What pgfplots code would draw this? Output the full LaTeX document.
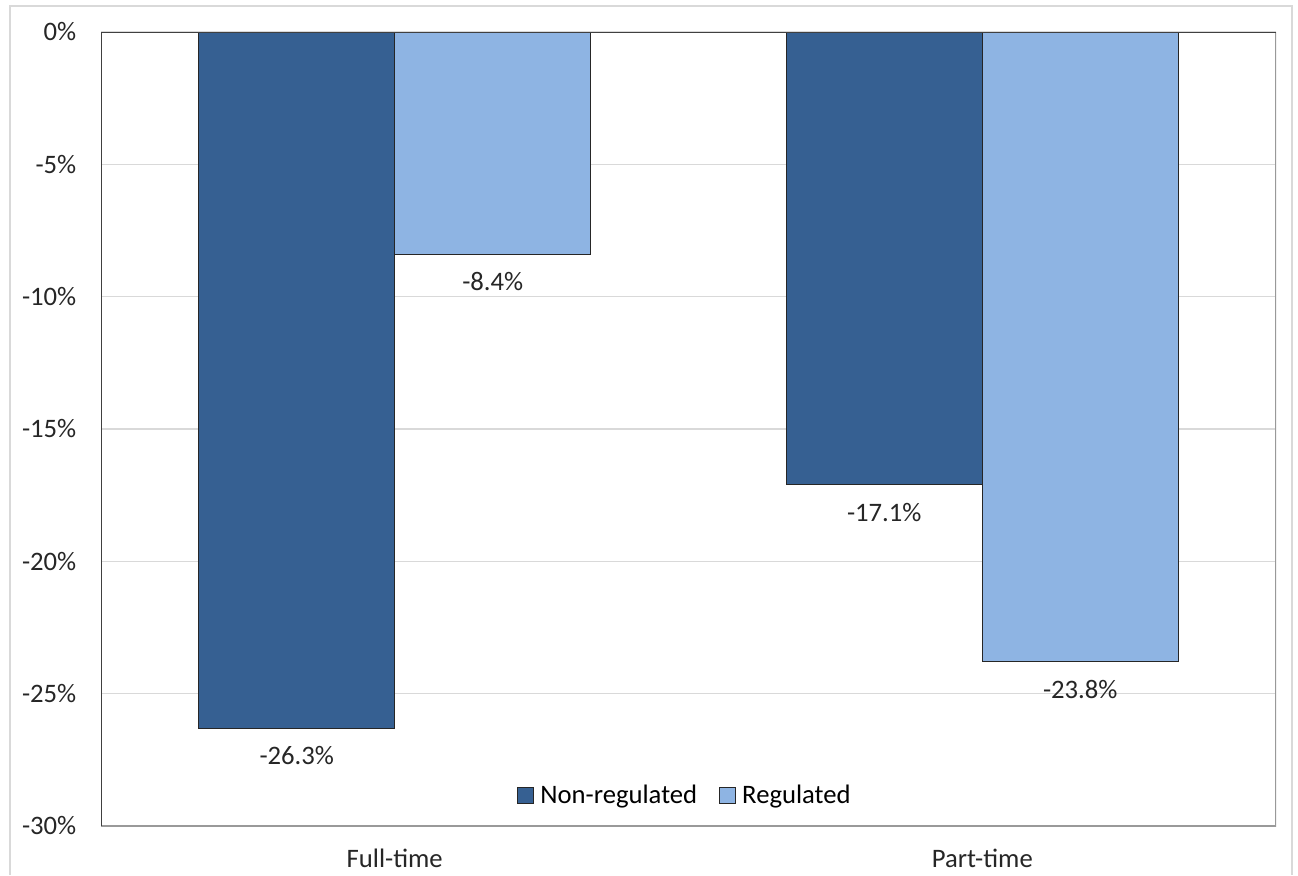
\documentclass[border=0pt]{standalone}
\usepackage{fontspec}
\setmainfont{Carlito}
\usepackage{pgfplots}
\pgfplotsset{compat=1.18}
\definecolor{darkbar}{HTML}{366092}
\definecolor{lightbar}{HTML}{8EB4E3}
\definecolor{gridc}{HTML}{D9D9D9}

\begin{document}
\begin{tikzpicture}
% page = 1298 x 875 px, 1px = 0.75pt
\useasboundingbox (0,0) rectangle (973.5pt,-656.25pt);
% chart area border (light)
\draw[gridc, line width=1.2pt] (7.5pt,-656.25pt) -- (7.5pt,-4.5pt) -- (969pt,-4.5pt) -- (969pt,-656.25pt);
\begin{axis}[
    at={(75.75pt,-24pt)}, anchor=north west,
    scale only axis,
    width=881.25pt, height=595.5pt,
    ybar=0pt, bar width=147pt,
    xmin=-0.5, xmax=1.5,
    ymin=-30, ymax=0,
    xtick={0,1}, xticklabels={Full-time,Part-time},
    ytick={0,-5,-10,-15,-20,-25,-30},
    yticklabel={\pgfmathprintnumber{\tick}\%},
    /pgf/number format/assume math mode=true,
    major tick length=0pt,
    ymajorgrids, grid style={gridc, line width=0.9pt},
    axis line style={draw=none},
    tick label style={font=\fontsize{20}{24}\selectfont, text=black!85},
    yticklabel style={xshift=-15pt},
    xticklabel style={yshift=-13.5pt},
    nodes near coords={\pgfmathprintnumber[fixed,fixed zerofill,precision=1]{\pgfplotspointmeta}\%},
    every node near coord/.append style={font=\fontsize{20}{24}\selectfont, text=black!85, yshift=-10pt},
    legend style={at={(0.497,0.039)}, anchor=center, draw=none, fill=none,
        font=\fontsize{20}{24}\selectfont, legend columns=2,
        /tikz/every even column/.append style={column sep=14pt}},
    legend image code/.code={\draw[#1, draw=black!85, line width=0.8pt] (0pt,-6pt) rectangle (12pt,6pt); \path (15pt,0pt);},
]
\addplot[fill=darkbar, draw=black!85, line width=0.8pt] coordinates {(0,-26.3) (1,-17.1)};
\addplot[fill=lightbar, draw=black!85, line width=0.8pt] coordinates {(0,-8.4) (1,-23.8)};
\legend{Non-regulated, Regulated}
\draw[black!40, line width=1.3pt] (rel axis cs:1,1) -- (rel axis cs:1,0) -- (rel axis cs:0,0);
\draw[black!75, line width=1.3pt] (rel axis cs:0,0) -- (rel axis cs:0,1) -- (rel axis cs:1,1);
\end{axis}
\end{tikzpicture}
\end{document}
